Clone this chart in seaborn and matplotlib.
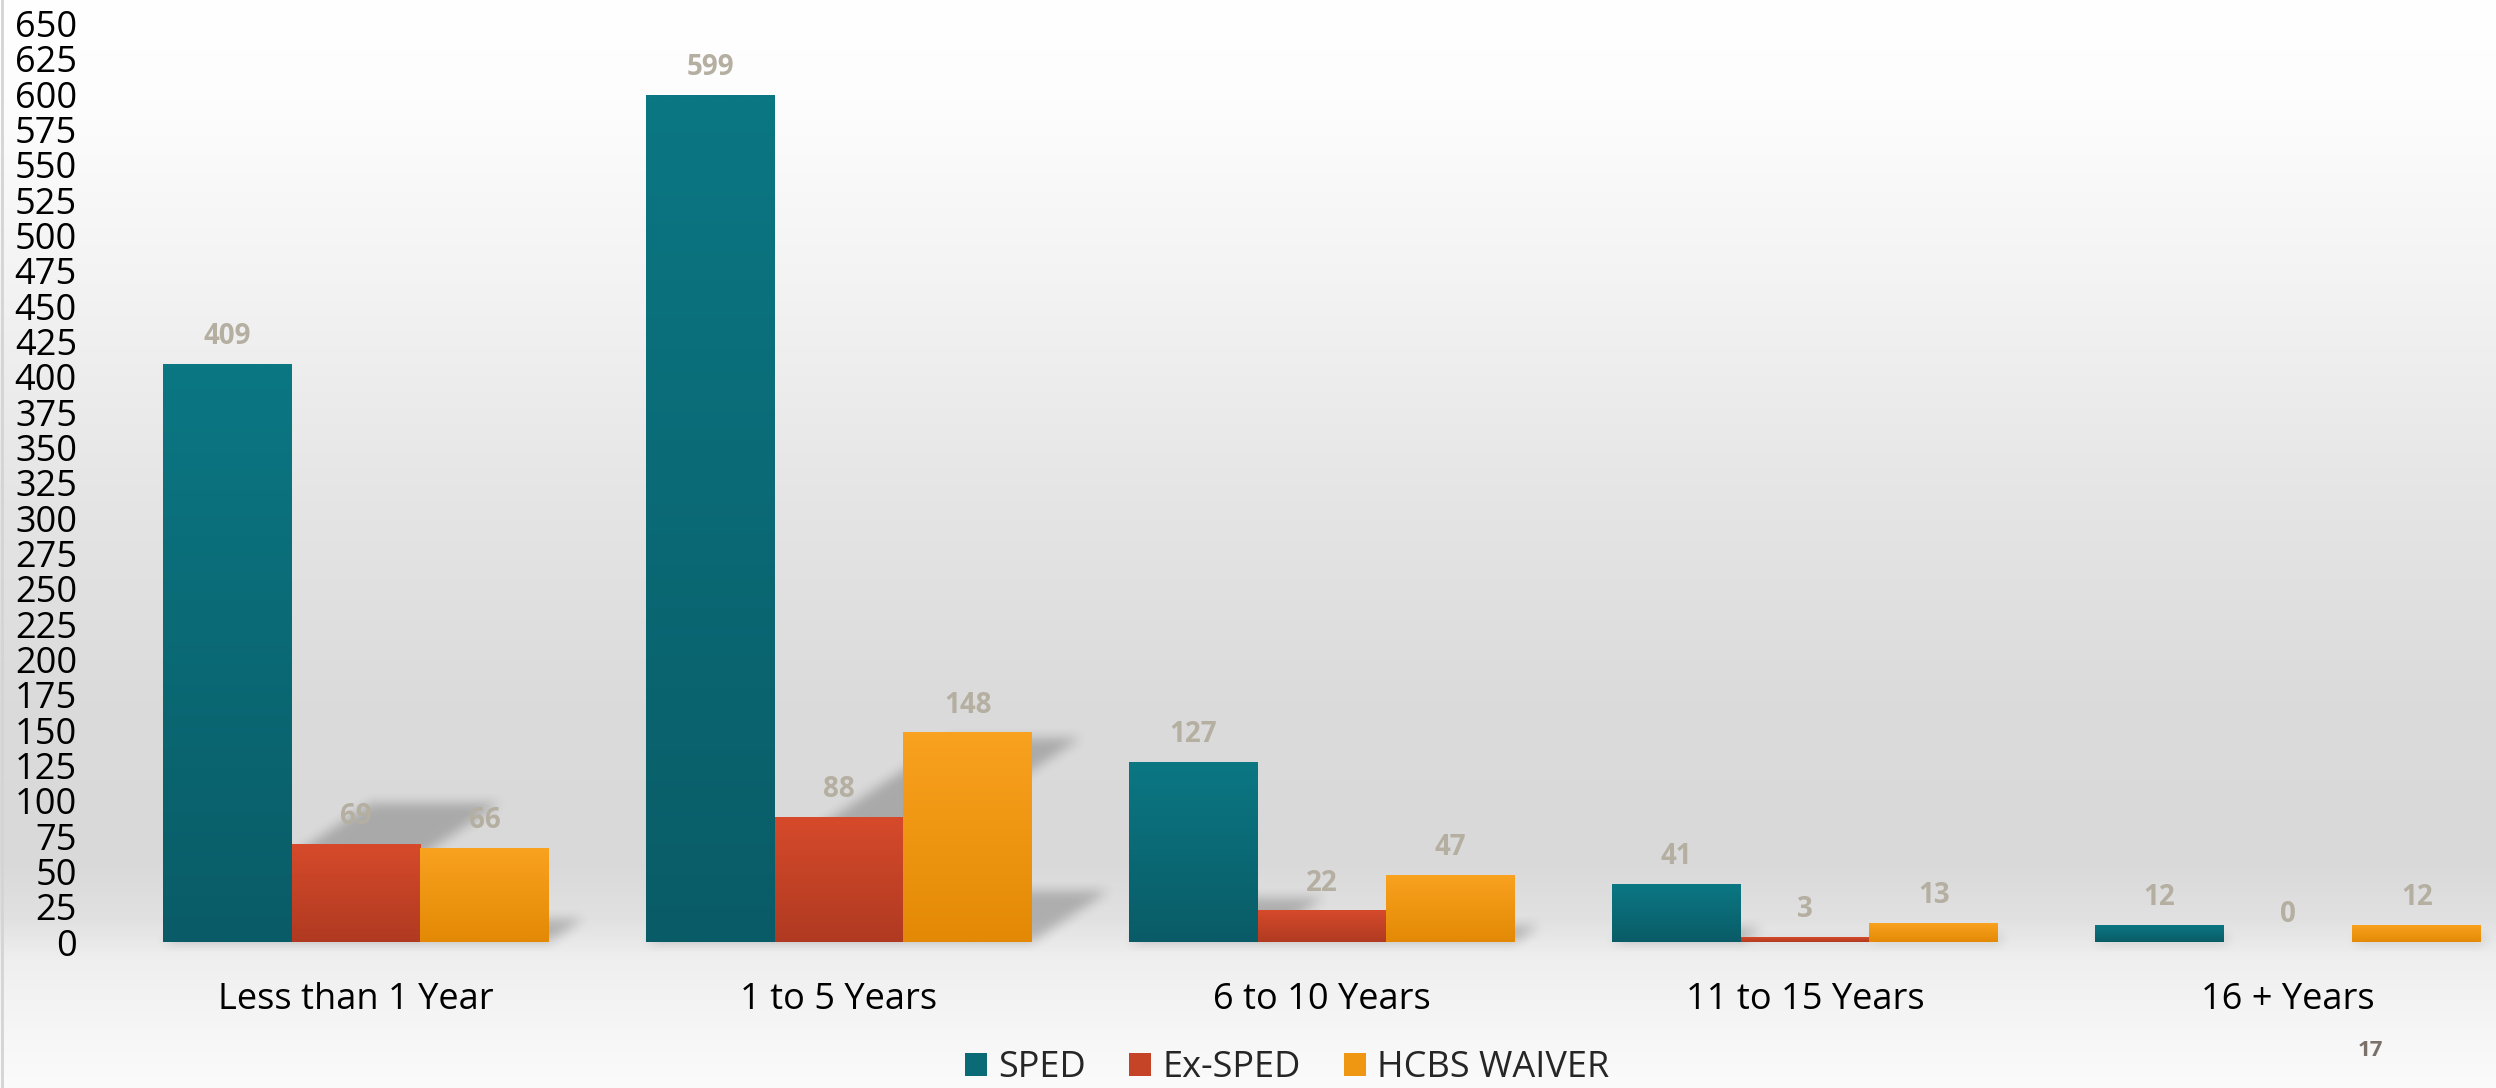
import numpy as np
import pandas as pd
import matplotlib
matplotlib.use("Agg")
import matplotlib.pyplot as plt
import seaborn as sns

# ---- data ----
categories = ["Less than 1 Year", "1 to 5 Years", "6 to 10 Years", "11 to 15 Years", "16 + Years"]
groups = ["SPED", "Ex-SPED", "HCBS WAIVER"]
sped = [409, 599, 127, 41, 12]
ex_sped = [69, 88, 22, 3, 0]
hcbs = [66, 148, 47, 13, 12]
y_ticks = list(range(0, 651, 25))
slide_number = "17"

top_cols = {"SPED": "#0b7783", "Ex-SPED": "#d64a2b", "HCBS WAIVER": "#f9a21f"}
bot_cols = {"SPED": "#095c67", "Ex-SPED": "#b03a21", "HCBS WAIVER": "#e38905"}
mid_cols = {"SPED": "#0a6a75", "Ex-SPED": "#c54326", "HCBS WAIVER": "#ef9612"}

df = pd.DataFrame({
    "cat": categories * 3,
    "grp": [g for g in groups for _ in categories],
    "val": sped + ex_sped + hcbs,
})

sns.set_theme(style="white")
plt.rcParams["font.family"] = ["Open Sans", "DejaVu Sans"]

W, H, DPI = 2496, 1088, 100
fig = plt.figure(figsize=(W / DPI, H / DPI), dpi=DPI)
fig.patch.set_facecolor("white")

# slide background gradient
stops_y = np.array([0, 100, 300, 500, 700, 860, 920, 960, 1040, 1088]) / H
stops_v = np.array([255, 253, 242, 229, 219, 217, 225, 239, 247, 251]) / 255.0
yy = np.linspace(0, 1, H)
g = np.interp(yy, stops_y, stops_v)
bg = np.dstack([g, g, g]).reshape(H, 1, 3).repeat(8, axis=1)
bgax = fig.add_axes([0, 0, 1, 1], zorder=-3)
bgax.imshow(bg, aspect="auto", extent=(0, 1, 0, 1), origin="upper")
bgax.axvline(0.0008, color="#d4d4d4", lw=2)
bgax.set_axis_off()

left_px, bot_px, top_px = 114.5, 146, 1064.5
step_px = 483.0
ax = fig.add_axes([left_px / W, bot_px / H, (W - left_px) / W, (top_px - bot_px) / H])
ax.patch.set_alpha(0)

sns.barplot(data=df, x="cat", y="val", hue="grp", order=categories, hue_order=groups,
            palette=mid_cols, saturation=1, width=0.8, ax=ax, legend=False,
            edgecolor="none", linewidth=0)

ax.set_xlim(-0.5, -0.5 + (W - left_px) / step_px)
ax.set_ylim(0, 650)
ax.set_yticks(y_ticks)
ax.set_yticklabels([str(t) for t in y_ticks])
ax.set_xlabel("")
ax.set_ylabel("")
for s in ax.spines.values():
    s.set_visible(False)
ax.tick_params(axis="both", length=0, labelsize=26, colors="black")
ax.tick_params(axis="y", pad=27)
ax.tick_params(axis="x", pad=29)

# gradient fill for each bar + value labels
for grp, cont in zip(groups, ax.containers):
    c_top = np.array(matplotlib.colors.to_rgb(top_cols[grp]))
    c_bot = np.array(matplotlib.colors.to_rgb(bot_cols[grp]))
    for bar in cont:
        h = bar.get_height()
        x0 = bar.get_x()
        w = bar.get_width()
        if h > 0:
            t = np.linspace(0, 1, 64).reshape(64, 1, 1)
            grad = c_top * (1 - t) + c_bot * t
            ax.imshow(grad, extent=(x0, x0 + w, 0, h), aspect="auto", origin="upper",
                      zorder=bar.get_zorder() + 0.1, interpolation="bilinear")
        ax.annotate(f"{int(h)}", (x0 + w / 2, h), xytext=(0, 20), textcoords="offset points",
                    ha="center", va="center", fontsize=20, fontweight="bold", color="#b5afa2",
                    zorder=5)

# perspective shadows: each bar squashed and skewed to the upper right, behind the bars
squash, skew = 0.24, 1.5
mask = np.zeros((H, W))
Y, X = np.mgrid[0:H, 0:W]
for cont in ax.containers:
    for bar in cont:
        h = bar.get_height()
        if h <= 0:
            continue
        (px0, py0), (px1, py1) = ax.transData.transform([(bar.get_x(), 0),
                                                        (bar.get_x() + bar.get_width(), h)])
        sh = squash * (py1 - py0)
        dy = Y - py0
        shift = skew * dy
        m = (dy >= 0) & (dy <= sh) & (X >= px0 + shift) & (X <= px1 + shift)
        mask[m] = 1.0


def box_blur(a, r, axis):
    k = np.ones(2 * r + 1) / (2 * r + 1)
    return np.apply_along_axis(lambda v: np.convolve(v, k, mode="same"), axis, a)


rows = np.where(mask.max(axis=1) > 0)[0]
if len(rows):
    r0, r1 = max(rows.min() - 30, 0), min(rows.max() + 30, H)
    sub = mask[r0:r1]
    for _ in range(2):
        sub = box_blur(sub, 6, 0)
        sub = box_blur(sub, 6, 1)
    mask[r0:r1] = sub
shadow = np.zeros((H, W, 4))
shadow[..., 3] = mask * 0.22
fig.figimage(shadow, xo=0, yo=0, origin="lower", zorder=-1)

# legend
handles = [matplotlib.patches.Patch(facecolor=mid_cols[gname], edgecolor="none") for gname in groups]
fig.legend(handles, groups, loc="center", bbox_to_anchor=(1287 / W, 1 - 1068 / H), ncol=3,
           frameon=False, fontsize=26, handlelength=0.62, handleheight=0.62,
           handletextpad=0.3, columnspacing=1.2, borderpad=0)

fig.text(2370 / W, 1 - 1051 / H, slide_number, ha="center", va="center", fontsize=16,
         fontweight="bold", color="#7a716a")

fig.savefig("out.png", dpi=DPI)
